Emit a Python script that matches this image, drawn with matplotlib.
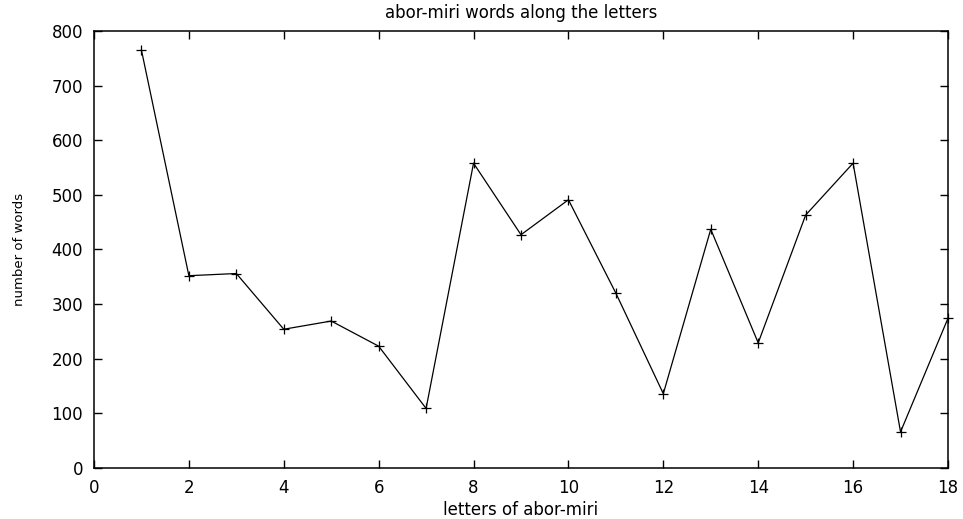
import matplotlib.pyplot as plt

plt.rcParams['font.family'] = ['DejaVu Sans']

# words counted per letter of abor-miri
letters = list(range(1, 19))
words = [765, 352, 356, 254, 269, 223, 109, 558, 427, 491,
         320, 136, 437, 229, 463, 558, 66, 274]

fig = plt.figure(figsize=(9.63, 5.19), dpi=100)
ax = fig.add_axes([0.0976, 0.0983, 0.8868, 0.842])

ax.plot(letters, words, color='black', linewidth=0.9,
        marker='+', markersize=6.5, markeredgewidth=0.9, clip_on=False)

ax.set_xlim(0, 18)
ax.set_ylim(0, 800)
ax.set_xticks(range(0, 19, 2))
ax.set_yticks(range(0, 801, 100))
ax.tick_params(direction='in', top=True, right=True, length=5.5, width=1,
               labelsize=12, pad=8)
for s in ax.spines.values():
    s.set_linewidth(1.1)

ax.set_title('abor-miri words along the letters', fontsize=12, pad=9)
ax.set_xlabel('letters of abor-miri', fontsize=12, labelpad=3)
ax.set_ylabel('number of words', fontsize=9.5, labelpad=18)

fig.savefig('out.png', dpi=100)
